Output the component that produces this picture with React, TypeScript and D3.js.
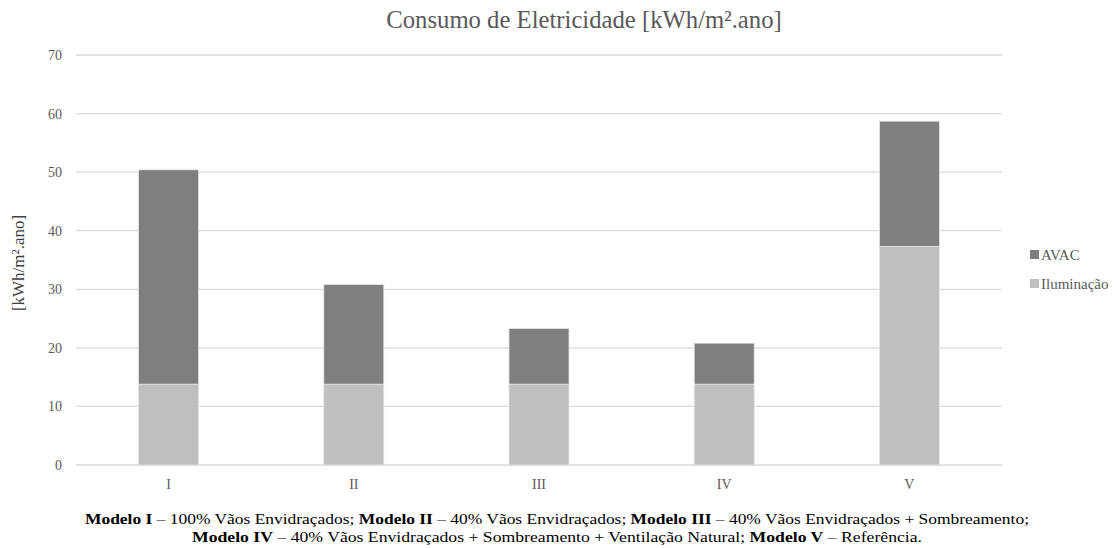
import React from "react";
import * as d3 from "d3";

const categories = ["I", "II", "III", "IV", "V"];
const iluminacao = [13.8, 13.8, 13.8, 13.8, 37.3];
const avac = [36.6, 17.0, 9.5, 7.0, 21.4];
const seriesNames = ["Iluminação", "AVAC"];
const legendOrder = ["AVAC", "Iluminação"];
const yTicks = [0, 10, 20, 30, 40, 50, 60, 70];

const W = 1118, H = 548;
const left = 76, right = 1002, top = 55, bottom = 465;
const font = "'Liberation Serif', 'Times New Roman', serif";
const colors: Record<string, string> = { "Iluminação": "#bfbfbf", "AVAC": "#7f7f7f" };

export default function App() {
  const x = d3.scaleBand().domain(categories).range([left, right]).paddingInner(0.676).paddingOuter(0.338);
  const y = d3.scaleLinear().domain([0, 70]).range([bottom, top]);
  const rows = categories.map((c, i) => ({ cat: c, "Iluminação": iluminacao[i], "AVAC": avac[i] }));
  const stacked = d3.stack<any>().keys(seriesNames)(rows);

  return (
    <svg width={W} height={H} style={{ position: "absolute", left: 0, top: 0, background: "#fff" }}>
      <text x={584} y={28} textAnchor="middle" fontFamily={font} fontSize={24.7} fill="#595959">
        Consumo de Eletricidade [kWh/m².ano]
      </text>
      {yTicks.map(t => (
        <g key={t}>
          <line x1={left} x2={right} y1={y(t)} y2={y(t)} stroke="#d9d9d9" strokeWidth={1.3} />
          <text x={62} y={y(t) + 5} textAnchor="end" fontFamily={font} fontSize={14} fill="#595959">{t}</text>
        </g>
      ))}
      <text transform={`translate(24,${263}) rotate(-90)`} textAnchor="middle" fontFamily={font} fontSize={17} fill="#404040">
        [kWh/m².ano]
      </text>
      {stacked.map(s => (
        <g key={s.key}>
          {s.map((d, i) => (
            <rect key={i} x={x(categories[i])!} width={x.bandwidth()} y={y(d[1])} height={y(d[0]) - y(d[1])}
              fill={colors[s.key]} stroke="#e6e6e6" strokeWidth={0.8} />
          ))}
        </g>
      ))}
      {categories.map(c => (
        <text key={c} x={x(c)! + x.bandwidth() / 2} y={489} textAnchor="middle" fontFamily={font} fontSize={14} fill="#595959">{c}</text>
      ))}
      {legendOrder.map((k, i) => (
        <g key={k}>
          <rect x={1030} y={250 + i * 29} width={9} height={9} fill={colors[k]} />
          <text x={1041} y={259.5 + i * 29} fontFamily={font} fontSize={15} fill="#595959">{k}</text>
        </g>
      ))}
      <text x={557} y={524} textAnchor="middle" fontFamily={font} fontSize={15.5} fill="#000" textLength={944} lengthAdjust="spacingAndGlyphs">
        <tspan fontWeight="bold">Modelo I</tspan> – 100% Vãos Envidraçados;  <tspan fontWeight="bold">Modelo II</tspan> – 40% Vãos Envidraçados;  <tspan fontWeight="bold">Modelo III</tspan> – 40% Vãos Envidraçados + Sombreamento;
      </text>
      <text x={557} y={542} textAnchor="middle" fontFamily={font} fontSize={15.5} fill="#000" textLength={730} lengthAdjust="spacingAndGlyphs">
        <tspan fontWeight="bold">Modelo IV</tspan> – 40% Vãos Envidraçados + Sombreamento + Ventilação Natural;  <tspan fontWeight="bold">Modelo V</tspan> – Referência.
      </text>
    </svg>
  );
}
